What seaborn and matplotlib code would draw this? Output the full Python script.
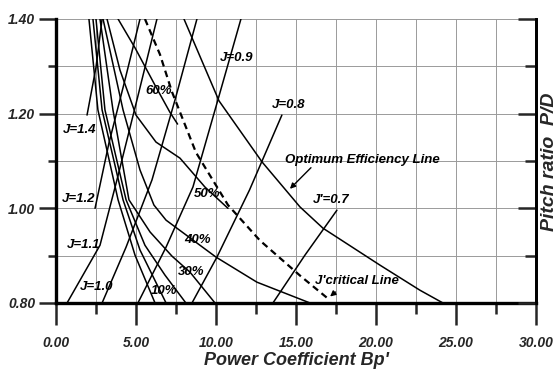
import matplotlib
matplotlib.use("Agg")
import matplotlib.pyplot as plt
import seaborn as sns
import numpy as np

sns.set_theme(style="white")
plt.rcParams['font.family'] = ['Liberation Sans', 'DejaVu Sans']

# ---- data (Bp', P/D) ----
# constant-J lines (rising)
j14_bp = [1.94, 2.50, 2.88]
j14_pd = [1.197, 1.298, 1.40]
j12_bp = [2.44, 3.31, 4.31, 5.25]
j12_pd = [1.00, 1.138, 1.271, 1.40]
j11_bp = [0.69, 2.75, 3.81, 5.06, 6.31]
j11_pd = [0.80, 0.922, 1.06, 1.229, 1.40]
j10_bp = [2.88, 4.38, 6.00, 7.44, 8.81]
j10_pd = [0.80, 0.918, 1.06, 1.229, 1.40]
j09_bp = [5.12, 6.88, 8.56, 10.12, 11.56]
j09_pd = [0.80, 0.918, 1.045, 1.229, 1.40]
j08_bp = [8.50, 10.06, 12.10, 14.12]
j08_pd = [0.80, 0.897, 1.039, 1.197]
j07_bp = [13.56, 15.56, 17.56]
j07_pd = [0.80, 0.901, 0.996]

# optimum efficiency line
opt_bp = [8.00, 10.19, 12.88, 15.25, 16.69, 20.25, 22.75, 24.19]
opt_pd = [1.40, 1.227, 1.098, 1.003, 0.958, 0.880, 0.827, 0.80]

# J' critical line (dashed)
crit_bp = [5.56, 6.50, 7.25, 8.75, 10.75, 12.75, 15.25, 17.12]
crit_pd = [1.40, 1.325, 1.246, 1.118, 1.007, 0.932, 0.858, 0.806]

# percentage curves (descending)
c0_bp = [2.06, 2.62, 3.88, 4.94, 6.19]
c0_pd = [1.40, 1.208, 1.018, 0.901, 0.80]
c10_bp = [2.31, 2.88, 4.19, 5.25, 6.88]
c10_pd = [1.40, 1.208, 1.018, 0.912, 0.80]
c20_bp = [2.50, 3.06, 4.38, 5.56, 6.81, 8.12]
c20_pd = [1.40, 1.208, 1.018, 0.922, 0.859, 0.80]
c30_bp = [2.75, 3.56, 4.56, 5.88, 7.25, 8.38, 9.94]
c30_pd = [1.40, 1.208, 1.018, 0.950, 0.899, 0.865, 0.80]
c40_bp = [2.94, 4.19, 5.25, 6.12, 6.88, 10.00, 12.56, 15.88]
c40_pd = [1.40, 1.208, 1.081, 1.007, 0.975, 0.897, 0.844, 0.80]
c50_bp = [3.19, 4.00, 5.00, 6.25, 7.75, 9.31, 10.75]
c50_pd = [1.40, 1.292, 1.197, 1.140, 1.106, 1.045, 1.00]
c60_bp = [3.88, 4.94, 6.19, 7.12, 7.60]
c60_pd = [1.40, 1.339, 1.260, 1.203, 1.178]

curves = [
    (j14_bp, j14_pd), (j12_bp, j12_pd), (j11_bp, j11_pd), (j10_bp, j10_pd),
    (j09_bp, j09_pd), (j08_bp, j08_pd), (j07_bp, j07_pd), (opt_bp, opt_pd),
    (c0_bp, c0_pd), (c10_bp, c10_pd), (c20_bp, c20_pd), (c30_bp, c30_pd),
    (c40_bp, c40_pd), (c50_bp, c50_pd), (c60_bp, c60_pd),
]

x_ticks = [0, 5, 10, 15, 20, 25, 30]
x_ticklabels = ["0.00", "5.00", "10.00", "15.00", "20.00", "25.00", "30.00"]
y_ticks = [0.80, 1.00, 1.20, 1.40]
y_ticklabels = ["0.80", "1.00", "1.20", "1.40"]

fig = plt.figure(figsize=(5.6, 3.71), dpi=100)
ax = fig.add_axes([0.1, 0.1833, 0.857, 0.7655])
ax.set_xlim(0, 30)
ax.set_ylim(0.80, 1.40)

for bp, pd_ in curves:
    sns.lineplot(x=bp, y=pd_, ax=ax, color="black", linewidth=1.1, sort=False,
                 estimator=None)
sns.lineplot(x=crit_bp, y=crit_pd, ax=ax, color="black", linewidth=1.6,
             linestyle=(0, (3, 2)), sort=False, estimator=None)

# grid
ax.set_xticks(np.arange(0, 30.01, 2.5), minor=True)
ax.set_yticks(np.arange(0.8, 1.401, 0.1), minor=True)
ax.grid(True, which="both", color="#9a9a9a", linewidth=0.7)
ax.set_axisbelow(True)

ax.set_xticks(x_ticks)
ax.set_xticklabels(x_ticklabels)
ax.set_yticks(y_ticks)
ax.set_yticklabels(y_ticklabels)
for lab in ax.get_xticklabels() + ax.get_yticklabels():
    lab.set_fontweight("bold"); lab.set_fontstyle("italic"); lab.set_fontsize(10)
ax.tick_params(axis="x", which="major", direction="out", length=16, width=1.8,
               pad=8, bottom=True)
ax.tick_params(axis="x", which="minor", direction="out", length=8, width=1.8,
               bottom=True)
ax.tick_params(axis="y", which="major", direction="out", length=12, width=1.8,
               pad=3, left=True)
ax.tick_params(axis="y", which="minor", direction="out", length=6, width=1.8,
               left=True)

for s in ["left", "bottom"]:
    ax.spines[s].set_color("black"); ax.spines[s].set_linewidth(2.4)
ax.spines["top"].set_visible(False)
ax.spines["right"].set_color("black"); ax.spines["right"].set_linewidth(2.0)

ax.set_xlabel("Power Coefficient Bp'", fontsize=13, fontweight="bold",
              fontstyle="italic", labelpad=1)
ax.set_ylabel("")

ax2 = ax.twinx()
ax2.set_ylim(0.80, 1.40)
ax2.set_yticks(y_ticks)
ax2.set_yticks(np.arange(0.8, 1.401, 0.1), minor=True)
ax2.tick_params(axis="y", which="major", direction="in", length=13, width=1.8,
                labelright=False, right=True)
ax2.tick_params(axis="y", which="minor", direction="in", length=8, width=1.8,
                right=True)
for s in ["left", "bottom", "top"]:
    ax2.spines[s].set_visible(False)
ax2.spines["right"].set_color("black"); ax2.spines["right"].set_linewidth(2.0)
ax2.grid(False)
fig.text(0.982, 0.563, "Pitch ratio  P/D", rotation=90, ha="center",
         va="center", fontsize=14, fontweight="bold", fontstyle="italic")

lf = dict(fontsize=9.5, fontweight="bold", fontstyle="italic", color="black",
          va="center")
ax.text(0.44, 1.165, "J=1.4", **lf)
ax.text(0.38, 1.020, "J=1.2", **lf)
ax.text(0.69, 0.922, "J=1.1", **lf)
ax.text(1.50, 0.834, "J=1.0", **lf)
ax.text(10.25, 1.317, "J=0.9", **lf)
ax.text(13.50, 1.218, "J=0.8", **lf)
ax.text(16.06, 1.018, "J'=0.7", **lf)
ax.text(5.56, 1.248, "60%", **lf)
ax.text(8.63, 1.030, "50%", **lf)
ax.text(8.00, 0.933, "40%", **lf)
ax.text(7.63, 0.865, "30%", **lf)
ax.text(5.94, 0.825, "10%", **lf)
ax.text(14.31, 1.102, "Optimum Efficiency Line", **lf)
ax.text(16.19, 0.846, "J'critical Line", **lf)
ax.annotate("", xy=(14.5, 1.037), xytext=(16.06, 1.090),
            arrowprops=dict(arrowstyle="-|>", color="black", lw=1.0,
                            mutation_scale=8))
ax.annotate("", xy=(17.0, 0.810), xytext=(17.6, 0.827),
            arrowprops=dict(arrowstyle="-|>", color="black", lw=1.0,
                            mutation_scale=8))

fig.savefig("out.png", dpi=100)
